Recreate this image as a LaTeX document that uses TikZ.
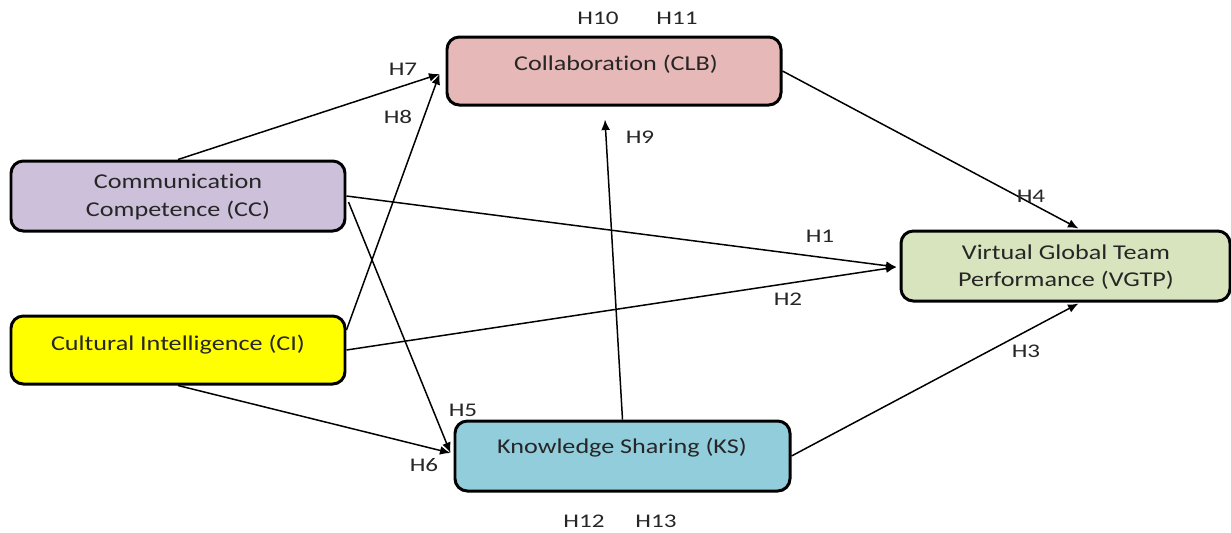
\documentclass[tikz,border=0pt]{standalone}
\usepackage{fontspec}
\setmainfont[Ligatures={NoCommon}]{Carlito}
\usetikzlibrary{arrows.meta,calc}
\definecolor{clbfill}{HTML}{E6B8B7}
\definecolor{ccfill}{HTML}{CCC0DA}
\definecolor{cifill}{HTML}{FFFF00}
\definecolor{ksfill}{HTML}{92CDDC}
\definecolor{vgfill}{HTML}{D7E4BD}
\definecolor{txt}{HTML}{262626}
\newcommand{\wide}[1]{\scalebox{1.24}[1]{#1}}
\newcommand{\widel}[1]{\scalebox{1.3}[1]{#1}}
\tikzset{
  box/.style={draw=black, line width=1.7pt, rounded corners=7pt, inner sep=0pt},
  boxtext/.style={font=\fontsize{12}{15.5}\selectfont, text=txt, align=center, inner sep=0pt},
  hlab/.style={font=\fontsize{11}{13}\selectfont, text=txt, inner sep=0pt},
  conn/.style={line width=0.85pt, -{Latex[length=6pt,width=5pt]}},
}
\begin{document}
\begin{tikzpicture}[x=0.02cm,y=-0.02cm]
\useasboundingbox (0,0) rectangle (1231,532);
% boxes
\node[box, fill=clbfill, minimum width=334*0.02cm, minimum height=68*0.02cm] (clb) at (614,71) {};
\node[box, fill=ccfill, minimum width=334*0.02cm, minimum height=70*0.02cm] (cc) at (178,196) {};
\node[box, fill=cifill, minimum width=334*0.02cm, minimum height=68*0.02cm] (ci) at (178,350) {};
\node[box, fill=ksfill, minimum width=335*0.02cm, minimum height=70*0.02cm] (ks) at (622.5,456) {};
\node[box, fill=vgfill, minimum width=329*0.02cm, minimum height=70*0.02cm] (vg) at (1065.5,266) {};
% box texts
\node[boxtext] (clbt) at (616,64) {\wide{Collaboration (CLB)}};
\node[boxtext] (cct) at (178,197) {\wide{Communication}\\\wide{Competence (CC)}};
\node[boxtext] (cit) at (178,345) {\wide{Cultural Intelligence (CI)}};
\node[boxtext] (kst) at (622,448) {\wide{Knowledge Sharing (KS)}};
\node[boxtext] (vgt) at (1066,267) {\wide{Virtual Global Team}\\\wide{Performance (VGTP)}};
% connector ends
\coordinate (clbin) at ($(clb.west)+(-6,3)$);
\coordinate (ksin) at ($(ks.west)+(-3,-3)$);
\coordinate (vgin) at ($(vg.west)+(-3,1)$);
\coordinate (clbbot) at ($(clb.south)+(-9,13)$);
\coordinate (vgtop) at ($(vg.north)+(13,-1)$);
\coordinate (vgbot) at ($(vg.south)+(13,1)$);
% connectors
\draw[conn] (cc.north) -- (clbin);
\draw[conn] ($(ci.east)+(0,-20)$) -- (clbin);
\draw[conn] (cc.east) -- (vgin);
\draw[conn] (ci.east) -- (vgin);
\draw[conn] ($(cc.east)+(2,6)$) -- (ksin);
\draw[conn] (ci.south) -- (ksin);
\draw[conn] (ks.north) -- (clbbot);
\draw[conn] (clb.east) -- (vgtop);
\draw[conn] (ks.east) -- (vgbot);
% labels
\node[hlab] (h10) at (598,18) {\widel{H10}};
\node[hlab] (h11) at (677,18) {\widel{H11}};
\node[hlab] (h7) at (403,69) {\widel{H7}};
\node[hlab] (h8) at (398,117) {\widel{H8}};
\node[hlab] (h9) at (640,137) {\widel{H9}};
\node[hlab] (h4) at (1031,196) {\widel{H4}};
\node[hlab] (h1) at (820,236) {\widel{H1}};
\node[hlab] (h2) at (788,299) {\widel{H2}};
\node[hlab] (h3) at (1026,351) {\widel{H3}};
\node[hlab] (h5) at (463,410) {\widel{H5}};
\node[hlab] (h6) at (424,465) {\widel{H6}};
\node[hlab] (h12) at (584,521) {\widel{H12}};
\node[hlab] (h13) at (656,521) {\widel{H13}};
\end{tikzpicture}
\end{document}
